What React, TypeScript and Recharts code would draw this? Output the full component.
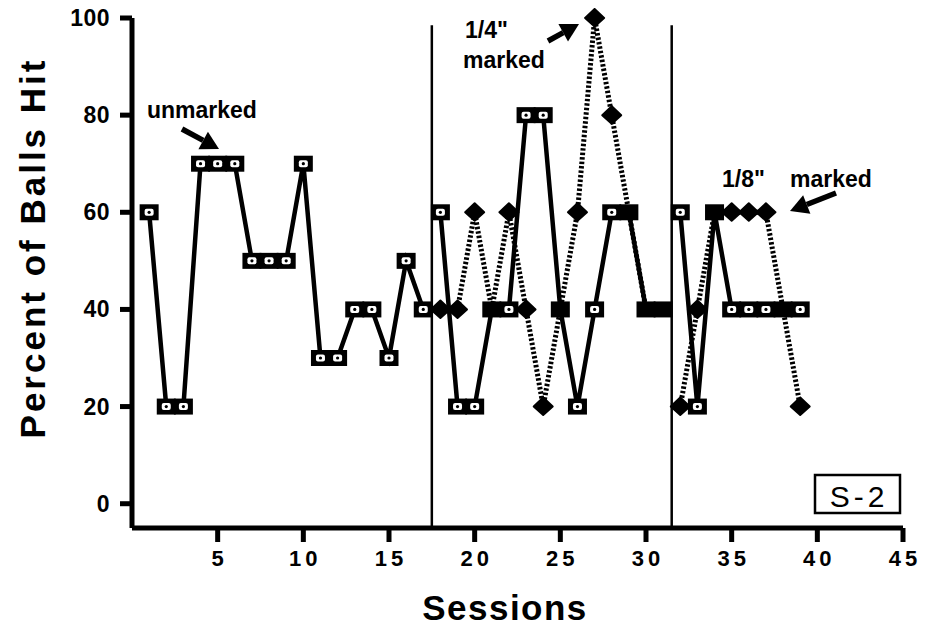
import { ComposedChart, Line, XAxis, YAxis, ReferenceLine } from "recharts";

const sessions = [1, 2, 3, 4, 5, 6, 7, 8, 9, 10, 11, 12, 13, 14, 15, 16, 17, 18, 19, 20, 21, 22, 23, 24, 25, 26, 27, 28, 29, 30, 31, 32, 33, 34, 35, 36, 37, 38, 39];
// open squares, solid line
const squarePct = [60, 20, 20, 70, 70, 70, 50, 50, 50, 70, 30, 30, 40, 40, 30, 50, 40, 60, 20, 20, 40, 40, 80, 80, 40, 20, 40, 60, 60, 40, 40, 60, 20, 60, 40, 40, 40, 40, 40];
// diamonds, dotted line (marked balls)
const diamondPct = [null, null, null, null, null, null, null, null, null, null, null, null, null, null, null, null, null, 40, 40, 60, 40, 60, 40, 20, 40, 60, 100, 80, 60, 40, 40, 20, 40, 60, 60, 60, 60, 40, 20];
const phaseBreaks = [17.5, 31.5];
const xTicks = [5, 10, 15, 20, 25, 30, 35, 40, 45];
const yTicks = [0, 20, 40, 60, 80, 100];

const rows: any[] = [];
sessions.forEach((s, i) => {
  const prev = i > 0 ? sessions[i - 1] : -Infinity;
  phaseBreaks.forEach((b) => {
    if (b > prev && b < s) rows.push({ s: b, sq: null, dm: null });
  });
  rows.push({ s, sq: squarePct[i], dm: diamondPct[i] });
});

const FONT = "'Liberation Sans', Arial, Helvetica, sans-serif";

function SquareDot(props: any) {
  const { cx, cy, payload, index } = props;
  if (payload.sq == null || cx == null) return <g key={"sq" + index} />;
  if (payload.dm === payload.sq) {
    return <rect key={"sq" + index} x={cx - 9.5} y={cy - 8} width={19} height={16} fill="#000" />;
  }
  return (
    <g key={"sq" + index}>
      <rect x={cx - 9.5} y={cy - 8} width={19} height={16} fill="#000" />
      <rect x={cx - 4.5} y={cy - 3.5} width={9} height={7} rx={2} fill="#fff" />
      <circle cx={cx} cy={cy} r={1.6} fill="#000" />
    </g>
  );
}

function DiamondDot(props: any) {
  const { cx, cy, payload, index } = props;
  if (payload.dm == null || cx == null || payload.dm === payload.sq) return <g key={"dm" + index} />;
  return (
    <polygon
      key={"dm" + index}
      points={`${cx},${cy - 9} ${cx + 9.5},${cy} ${cx},${cy + 8.5} ${cx - 9.5},${cy}`}
      fill="#000"
      stroke="#000"
      strokeWidth={2}
      strokeLinejoin="round"
    />
  );
}

// tickSize 14 + tickMargin 4 → axis line sits 18px above the label anchor
function XTick({ x, y, payload }: any) {
  return (
    <g>
      <rect x={x - 2.5} y={y - 18} width={5} height={14} fill="#000" />
      <text x={x + 2} y={y} dy={20} textAnchor="middle" fontFamily={FONT} fontWeight="bold" fontSize={22} letterSpacing={4} fill="#000">
        {payload.value}
      </text>
    </g>
  );
}

// tickSize 12 + tickMargin 10 → axis line sits 22px right of the label anchor
function YTick({ x, y, payload }: any) {
  return (
    <g>
      <rect x={x + 10} y={y - 2.5} width={12} height={5} fill="#000" />
      <text x={x} y={y} dy={8} textAnchor="end" fontFamily={FONT} fontWeight="bold" fontSize={23} letterSpacing={0.5} fill="#000">
        {payload.value}
      </text>
    </g>
  );
}

function Arrow({ from, to }: { from: number[]; to: number[] }) {
  const dx = to[0] - from[0];
  const dy = to[1] - from[1];
  const len = Math.sqrt(dx * dx + dy * dy);
  const ux = dx / len, uy = dy / len;
  const hl = 18, hw = 10;
  const bx = to[0] - ux * hl, by = to[1] - uy * hl;
  const pts = `${to[0]},${to[1]} ${bx - uy * hw},${by + ux * hw} ${bx + uy * hw},${by - ux * hw}`;
  return (
    <g>
      <line x1={from[0]} y1={from[1]} x2={bx} y2={by} stroke="#000" strokeWidth={5.5} />
      <polygon points={pts} fill="#000" />
    </g>
  );
}

export default function App() {
  const W = 928, H = 629;
  const note = { fontFamily: FONT, fontWeight: "bold" as const, fontSize: 23, fill: "#000" };
  return (
    <div style={{ position: "relative", width: W, height: H, margin: -8 }}>
      <ComposedChart width={W} height={H} data={rows} margin={{ top: 18, right: 25, bottom: 41, left: 32 }}>
        <XAxis
          type="number"
          dataKey="s"
          domain={[0, 45]}
          ticks={xTicks}
          tickSize={14}
          tickMargin={4}
          tick={<XTick />}
          axisLine={false}
          tickLine={false}
          height={60}
        />
        <YAxis
          type="number"
          domain={[-5, 100]}
          ticks={yTicks}
          tickSize={12}
          tickMargin={10}
          tick={<YTick />}
          axisLine={false}
          tickLine={false}
          width={100}
        />
        <ReferenceLine x={0} stroke="#000" strokeWidth={5} />
        <ReferenceLine y={-5} stroke="#000" strokeWidth={5} />
        {phaseBreaks.map((b) => (
          <ReferenceLine key={b} segment={[{ x: b, y: 98.5 }, { x: b, y: -5 }]} stroke="#000" strokeWidth={2.5} />
        ))}
        <Line dataKey="dm" stroke="#000" strokeWidth={5} strokeDasharray="2.5 2" dot={false} activeDot={false} isAnimationActive={false} type="linear" />
        <Line dataKey="sq" stroke="#000" strokeWidth={4.5} dot={false} activeDot={false} isAnimationActive={false} type="linear" />
        <Line dataKey="dm" stroke="none" dot={<DiamondDot />} activeDot={false} isAnimationActive={false} type="linear" />
        <Line dataKey="sq" stroke="none" dot={<SquareDot />} activeDot={false} isAnimationActive={false} type="linear" />
      </ComposedChart>
      <svg width={W} height={H} style={{ position: "absolute", left: 0, top: 0, pointerEvents: "none" }}>
        <text x={45} y={248} transform="rotate(-90 45 248)" textAnchor="middle" fontFamily={FONT} fontWeight="bold" fontSize={35} letterSpacing={3} fill="#000">
          Percent of Balls Hit
        </text>
        <text x={505} y={620} textAnchor="middle" fontFamily={FONT} fontWeight="bold" fontSize={35} letterSpacing={1.5} fill="#000">
          Sessions
        </text>
        <text x={147} y={118} {...note}>unmarked</text>
        <Arrow from={[182, 129]} to={[219, 149]} />
        <text x={465} y={38} {...note}>1/4"</text>
        <text x={463} y={68} {...note}>marked</text>
        <Arrow from={[548, 41]} to={[579, 24]} />
        <text x={722} y={187} {...note}>1/8"</text>
        <text x={790} y={187} {...note}>marked</text>
        <Arrow from={[836, 193]} to={[790, 211]} />
        <rect x={815} y={475} width={85} height={38} fill="#fff" stroke="#000" strokeWidth={2.5} />
        <text x={859} y={507} textAnchor="middle" fontFamily={FONT} fontSize={30} letterSpacing={4} fill="#000">
          S-2
        </text>
      </svg>
    </div>
  );
}
